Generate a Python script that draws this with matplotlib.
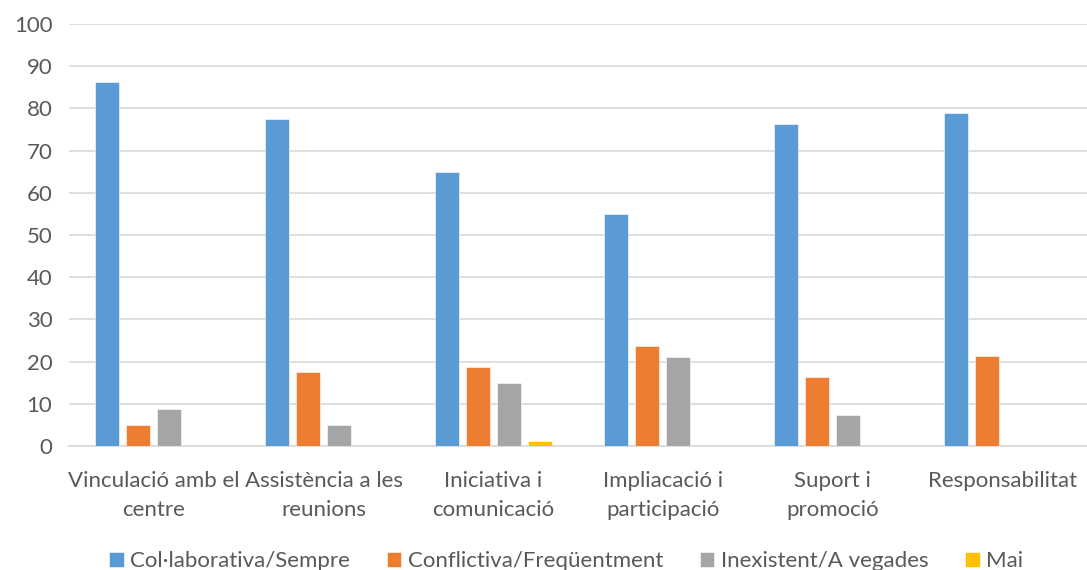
import numpy as np
import matplotlib.pyplot as plt

categories = ["Vinculació amb el\ncentre", "Assistència a les\nreunions",
              "Iniciativa i\ncomunicació", "Impliacació i\nparticipació",
              "Suport i\npromoció", "Responsabilitat"]
series_names = ["Col·laborativa/Sempre", "Conflictiva/Freqüentment",
                "Inexistent/A vegades", "Mai"]
colaborativa = [86.3, 77.5, 64.9, 55.0, 76.3, 78.8]
conflictiva = [4.9, 17.5, 18.7, 23.7, 16.3, 21.3]
inexistent = [8.7, 4.9, 14.9, 21.2, 7.4, 0]
mai = [0, 0, 1.2, 0, 0, 0]
colors = ["#5B9BD5", "#ED7D31", "#A5A5A5", "#FFC000"]

plt.rcParams['font.family'] = ['Lato', 'DejaVu Sans']

fig = plt.figure(figsize=(10.87, 5.70), dpi=100)
ax = fig.add_axes([0.0635, 0.2175, 0.9365, 0.7405])

x = np.arange(len(categories))
step = 0.1827
w = 0.1414
for i, vals in enumerate([colaborativa, conflictiva, inexistent, mai]):
    ax.bar(x + (i - 1.5) * step, vals, width=w, color=colors[i],
           label=series_names[i], edgecolor="white", linewidth=0.4, zorder=3)

ax.set_xlim(-0.5, 5.5)
ax.set_ylim(0, 100)
ax.set_yticks(range(0, 101, 10))
ax.yaxis.grid(True, color="#D9D9D9", linewidth=1.2, zorder=0)
for s in ["top", "right", "left"]:
    ax.spines[s].set_visible(False)
ax.spines["bottom"].set_color("#D9D9D9")
ax.spines["bottom"].set_linewidth(1.2)
ax.tick_params(axis="both", length=0, labelsize=16, labelcolor="#595959")
ax.tick_params(axis="y", pad=12)
ax.tick_params(axis="x", pad=18)
ax.set_xticks(x)
ax.set_xticklabels(categories, linespacing=1.55)

fig.legend(loc="center", bbox_to_anchor=(0.521, 0.015), ncol=4,
           frameon=False, fontsize=16, labelcolor="#595959",
           handlelength=0.65, handleheight=0.65, handletextpad=0.3,
           columnspacing=1.65)

fig.savefig("out.png", dpi=100)
